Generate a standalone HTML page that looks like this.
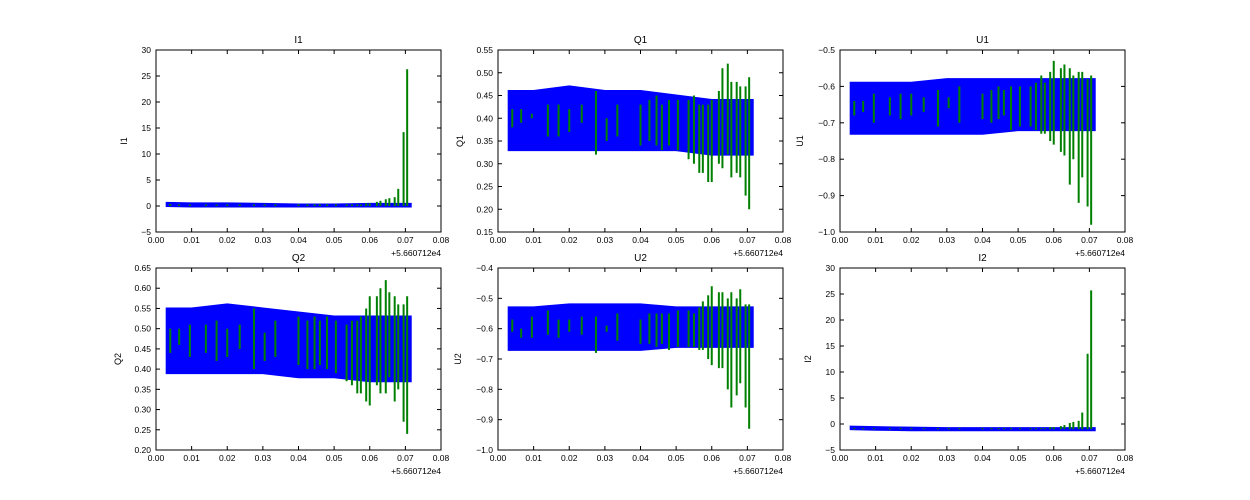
<!DOCTYPE html>
<html><head><meta charset="utf-8"><style>
body{margin:0;background:#fff;}
svg{display:block;font-family:"Liberation Sans","DejaVu Sans",sans-serif;}
</style></head><body>
<svg id="fig" width="1250" height="500" viewBox="0 0 1250 500" xmlns="http://www.w3.org/2000/svg"></svg>
<script>
// ---- shared x data ----
const xTicks = [0,0.01,0.02,0.03,0.04,0.05,0.06,0.07,0.08];
const xTickLabels = ["0.00","0.01","0.02","0.03","0.04","0.05","0.06","0.07","0.08"];
const bandX = [0.003,0.01,0.02,0.03,0.04,0.05,0.06,0.0715];
const spikeX = [0.004,0.0065,0.0095,0.014,0.017,0.02,0.0235,0.0275,0.0305,0.0335,0.04,0.0425,0.0445,0.046,0.048,0.0505,0.0535,0.055,0.0565,0.0575,0.059,0.06,0.062,0.063,0.0645,0.0655,0.067,0.068,0.0695,0.0705];

// ---- I1 ----
const I1_upper = [0.6,0.5,0.5,0.4,0.3,0.3,0.4,0.4];
const I1_lower = [0,-0.1,-0.1,-0.1,-0.1,-0.1,-0.1,-0.1];
const I1_lo = [0,0,0,0,0,0,0,0,0,0,0,0,0,0,0,0,0,0,0,0,0,0,0,0,0,0,0,0,0,0];
const I1_hi = [0.4,0.3,0.3,0.3,0.3,0.3,0.3,0.3,0.3,0.3,0.3,0.3,0.3,0.3,0.3,0.3,0.3,0.3,0.3,0.3,0.5,0.5,0.8,1.0,1.3,1.5,1.7,3.3,14.2,26.3];
const I1_yTicks = [-5,0,5,10,15,20,25,30];
const I1_yLabels = ["\u22125","0","5","10","15","20","25","30"];
// ---- Q1 ----
const Q1_upper = [0.46,0.46,0.47,0.46,0.46,0.45,0.44,0.44];
const Q1_lower = [0.33,0.33,0.33,0.33,0.33,0.33,0.32,0.32];
const Q1_lo = [0.38,0.39,0.40,0.36,0.36,0.37,0.39,0.32,0.35,0.36,0.34,0.35,0.34,0.33,0.34,0.33,0.31,0.30,0.28,0.28,0.26,0.26,0.30,0.29,0.32,0.27,0.28,0.27,0.23,0.20];
const Q1_hi = [0.42,0.42,0.41,0.43,0.43,0.42,0.43,0.46,0.40,0.43,0.43,0.44,0.45,0.43,0.44,0.44,0.44,0.45,0.43,0.43,0.43,0.44,0.46,0.51,0.52,0.48,0.48,0.47,0.47,0.49];
const Q1_yTicks = [0.15,0.20,0.25,0.30,0.35,0.40,0.45,0.50,0.55];
const Q1_yLabels = ["0.15","0.20","0.25","0.30","0.35","0.40","0.45","0.50","0.55"];
// ---- U1 ----
const U1_upper = [-0.59,-0.59,-0.59,-0.58,-0.58,-0.58,-0.58,-0.58];
const U1_lower = [-0.73,-0.73,-0.73,-0.73,-0.73,-0.72,-0.72,-0.72];
const U1_lo = [-0.68,-0.67,-0.70,-0.68,-0.69,-0.68,-0.67,-0.71,-0.66,-0.70,-0.69,-0.70,-0.69,-0.68,-0.72,-0.71,-0.71,-0.72,-0.73,-0.73,-0.75,-0.76,-0.78,-0.79,-0.87,-0.80,-0.92,-0.85,-0.93,-0.98];
const U1_hi = [-0.64,-0.64,-0.62,-0.63,-0.62,-0.62,-0.63,-0.61,-0.63,-0.60,-0.62,-0.61,-0.60,-0.61,-0.60,-0.60,-0.60,-0.59,-0.57,-0.59,-0.56,-0.53,-0.55,-0.54,-0.55,-0.57,-0.56,-0.56,-0.58,-0.57];
const U1_yTicks = [-1.0,-0.9,-0.8,-0.7,-0.6,-0.5];
const U1_yLabels = ["\u22121.0","\u22120.9","\u22120.8","\u22120.7","\u22120.6","\u22120.5"];
// ---- Q2 ----
const Q2_upper = [0.55,0.55,0.56,0.55,0.54,0.53,0.53,0.53];
const Q2_lower = [0.39,0.39,0.39,0.39,0.38,0.38,0.37,0.37];
const Q2_lo = [0.44,0.46,0.43,0.44,0.42,0.43,0.45,0.40,0.42,0.43,0.41,0.40,0.40,0.41,0.40,0.39,0.37,0.36,0.34,0.34,0.32,0.31,0.36,0.34,0.34,0.38,0.32,0.35,0.27,0.24];
const Q2_hi = [0.50,0.50,0.51,0.51,0.52,0.50,0.51,0.55,0.49,0.52,0.53,0.52,0.53,0.52,0.53,0.52,0.51,0.52,0.52,0.53,0.55,0.58,0.58,0.60,0.62,0.59,0.58,0.56,0.56,0.58];
const Q2_yTicks = [0.20,0.25,0.30,0.35,0.40,0.45,0.50,0.55,0.60,0.65];
const Q2_yLabels = ["0.20","0.25","0.30","0.35","0.40","0.45","0.50","0.55","0.60","0.65"];
// ---- U2 ----
const U2_upper = [-0.53,-0.53,-0.52,-0.52,-0.52,-0.53,-0.53,-0.53];
const U2_lower = [-0.67,-0.67,-0.67,-0.67,-0.67,-0.66,-0.66,-0.66];
const U2_lo = [-0.61,-0.63,-0.63,-0.62,-0.63,-0.61,-0.62,-0.68,-0.61,-0.64,-0.65,-0.65,-0.66,-0.65,-0.67,-0.66,-0.66,-0.66,-0.67,-0.67,-0.70,-0.72,-0.73,-0.73,-0.80,-0.86,-0.82,-0.78,-0.86,-0.93];
const U2_hi = [-0.57,-0.60,-0.56,-0.54,-0.57,-0.57,-0.56,-0.56,-0.59,-0.55,-0.57,-0.55,-0.55,-0.55,-0.55,-0.54,-0.54,-0.55,-0.53,-0.51,-0.49,-0.46,-0.48,-0.48,-0.50,-0.48,-0.50,-0.47,-0.52,-0.52];
const U2_yTicks = [-1.0,-0.9,-0.8,-0.7,-0.6,-0.5,-0.4];
const U2_yLabels = ["\u22121.0","\u22120.9","\u22120.8","\u22120.7","\u22120.6","\u22120.5","\u22120.4"];
// ---- I2 ----
const I2_upper = [-0.5,-0.6,-0.7,-0.8,-0.8,-0.8,-0.8,-0.8];
const I2_lower = [-1.0,-1.1,-1.2,-1.2,-1.2,-1.2,-1.2,-1.2];
const I2_lo = [-1,-1,-1,-1,-1,-1,-1,-1,-1,-1,-1,-1,-1,-1,-1,-1,-1,-1,-1,-1,-1,-1,-1,-1,-1,-1,-1,-1,-1,-1];
const I2_hi = [-0.8,-0.8,-0.8,-0.8,-0.8,-0.8,-0.8,-0.8,-0.8,-0.8,-0.8,-0.8,-0.8,-0.8,-0.8,-0.8,-0.8,-0.8,-0.8,-0.8,-0.6,-0.6,-0.4,-0.2,0.2,0.4,0.6,2.2,13.5,25.7];
const I2_yTicks = [-5,0,5,10,15,20,25,30];
const I2_yLabels = ["\u22125","0","5","10","15","20","25","30"];

const panels = [
 {name:"I1",L:156,T:50,ymin:-5,ymax:30,up:I1_upper,lw:I1_lower,lo:I1_lo,hi:I1_hi,yt:I1_yTicks,yl:I1_yLabels,labOff:29},
 {name:"Q1",L:498,T:50,ymin:0.15,ymax:0.55,up:Q1_upper,lw:Q1_lower,lo:Q1_lo,hi:Q1_hi,yt:Q1_yTicks,yl:Q1_yLabels,labOff:35},
 {name:"U1",L:840,T:50,ymin:-1,ymax:-0.5,up:U1_upper,lw:U1_lower,lo:U1_lo,hi:U1_hi,yt:U1_yTicks,yl:U1_yLabels,labOff:37},
 {name:"Q2",L:156,T:268,ymin:0.2,ymax:0.65,up:Q2_upper,lw:Q2_lower,lo:Q2_lo,hi:Q2_hi,yt:Q2_yTicks,yl:Q2_yLabels,labOff:35},
 {name:"U2",L:498,T:268,ymin:-1,ymax:-0.4,up:U2_upper,lw:U2_lower,lo:U2_lo,hi:U2_hi,yt:U2_yTicks,yl:U2_yLabels,labOff:37},
 {name:"I2",L:840,T:268,ymin:-5,ymax:30,up:I2_upper,lw:I2_lower,lo:I2_lo,hi:I2_hi,yt:I2_yTicks,yl:I2_yLabels,labOff:29}
];
const W=285,H=182,NS="http://www.w3.org/2000/svg";
const svg=document.getElementById('fig');
function mk(tag,attrs,parent,text){const e=document.createElementNS(NS,tag);for(const k in attrs)e.setAttribute(k,attrs[k]);if(text!==undefined)e.textContent=text;parent.appendChild(e);return e;}
panels.forEach(p=>{
  const g=mk('g',{},svg);
  
  
  const xs=v=>p.L+(v-0)/0.08*W;
  const ys=v=>p.T+H-(v-p.ymin)/(p.ymax-p.ymin)*H;
  // blue band
  let pts=[];
  bandX.forEach((x,i)=>pts.push(xs(x)+','+ys(p.up[i])));
  for(let i=bandX.length-1;i>=0;i--)pts.push(xs(bandX[i])+','+ys(p.lw[i]));
  const band=mk('polygon',{points:pts.join(' '),fill:'#0000ff',stroke:'#0000ff','stroke-width':2},g);
  
  
  // green spikes
  spikeX.forEach((x,i)=>{
    const l=mk('line',{x1:xs(x),x2:xs(x),y1:ys(p.lo[i]),y2:ys(p.hi[i]),stroke:'#008000','stroke-width':2},g);
    
    
  });
  // frame
  const fr=mk('rect',{x:p.L,y:p.T,width:W,height:H,fill:'none',stroke:'#000','stroke-width':1},g);
  
  
  // x ticks
  xTicks.forEach((v,i)=>{
    const x=xs(v);
    mk('line',{x1:x,x2:x,y1:p.T+H,y2:p.T+H-4,stroke:'#000'},g);
    mk('line',{x1:x,x2:x,y1:p.T,y2:p.T+4,stroke:'#000'},g);
    const t=mk('text',{x:x,y:p.T+H+11,'font-size':8.5,'text-anchor':'middle'},g,xTickLabels[i]);
    
    
  });
  p.yt.forEach((v,i)=>{
    const y=ys(v);
    mk('line',{x1:p.L,x2:p.L+4,y1:y,y2:y,stroke:'#000'},g);
    mk('line',{x1:p.L+W,x2:p.L+W-4,y1:y,y2:y,stroke:'#000'},g);
    const t=mk('text',{x:p.L-5,y:y+3,'font-size':8.5,'text-anchor':'end'},g,p.yl[i]);
    
    
  });
  const off=mk('text',{x:p.L+W,y:p.T+H+24,'font-size':8.5,'text-anchor':'end'},g,'+5.660712e4');
  
  
  const ti=mk('text',{x:p.L+W/2,y:p.T-7,'font-size':10,'text-anchor':'middle'},g,p.name);
  
  
  const yx=p.L-p.labOff, yy=p.T+H/2;
  const yl=mk('text',{x:yx,y:yy,'font-size':9,'text-anchor':'middle',transform:`rotate(-90 ${yx} ${yy})`},g,p.name);
  
  
});
</script>
</body></html>
